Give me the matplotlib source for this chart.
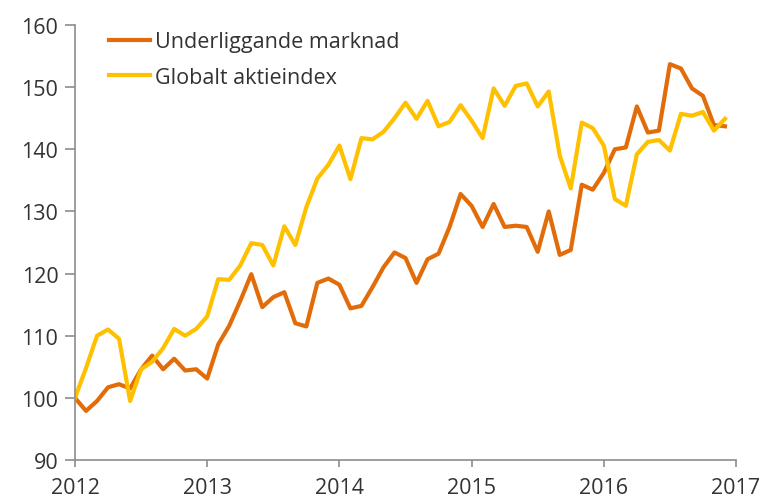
import matplotlib
matplotlib.use("Agg")
import matplotlib.pyplot as plt
import numpy as np

years = [2012, 2013, 2014, 2015, 2016, 2017]
underliggande = [100, 97.9, 99.5, 101.7, 102.2, 101.5, 104.6, 106.8, 104.6, 106.3,
                 104.4, 104.6, 103.1, 108.6, 111.6, 115.6, 119.9, 114.6, 116.2, 117.0,
                 112.0, 111.5, 118.5, 119.2, 118.2, 114.4, 114.8, 117.8, 121.0, 123.4,
                 122.5, 118.5, 122.3, 123.2, 127.5, 132.8, 130.9, 127.5, 131.2, 127.5,
                 127.7, 127.5, 123.5, 130.0, 123.0, 123.8, 134.3, 133.5, 136.2, 140.0,
                 140.3, 146.9, 142.7, 143.0, 153.7, 153.0, 149.8, 148.6, 143.9, 143.7]
globalt = [100, 104.8, 110, 111, 109.5, 99.5, 104.6, 105.8, 108, 111.1,
           110, 111.1, 113.1, 119.1, 119.0, 121.3, 124.9, 124.6, 121.3, 127.6,
           124.6, 130.7, 135.3, 137.5, 140.6, 135.2, 141.8, 141.6, 142.8, 145.0,
           147.5, 144.9, 147.8, 143.7, 144.4, 147.1, 144.6, 141.8, 149.8, 147.0,
           150.2, 150.6, 146.9, 149.3, 139.0, 133.7, 144.3, 143.4, 140.6, 132.0,
           130.9, 139.2, 141.2, 141.5, 139.8, 145.7, 145.4, 146.0, 143.0, 144.9]
labels = ["Underliggande marknad", "Globalt aktieindex"]

plt.rcParams['font.family'] = ['Open Sans', 'DejaVu Sans']

fig = plt.figure(figsize=(7.68, 5.02), dpi=100)
ax = fig.add_axes([75/768, 41/502, (736-75)/768, (461-26)/502])

months = np.arange(len(underliggande))
ax.plot(months, underliggande, color='#E36C0A', lw=3, label=labels[0], solid_joinstyle='round')
ax.plot(months, globalt, color='#FFC000', lw=3, label=labels[1], solid_joinstyle='round')

ax.set_xlim(0, 60)
ax.set_ylim(90, 160)
ax.set_xticks([12*i for i in range(len(years))])
ax.set_xticklabels([str(y) for y in years])
ax.set_yticks(np.arange(90, 161, 10))

for s in ['top', 'right']:
    ax.spines[s].set_visible(False)
for s in ['left', 'bottom']:
    ax.spines[s].set_color('#8C8C8C')
    ax.spines[s].set_linewidth(1.2)

fs = 15.5
ax.tick_params(axis='y', direction='out', length=7, width=1.2, color='#8C8C8C',
               labelsize=fs, labelcolor='#333333', pad=5)
ax.tick_params(axis='x', direction='out', length=5, width=1.2, color='#8C8C8C',
               labelsize=fs, labelcolor='#333333', pad=7)

leg = ax.legend(loc='upper left', bbox_to_anchor=(0.022, 1.03), frameon=False,
                fontsize=fs, handlelength=1.9, handletextpad=0.25, labelspacing=0.68)
for t in leg.get_texts():
    t.set_color('#333333')

fig.savefig('out.png', dpi=100)
